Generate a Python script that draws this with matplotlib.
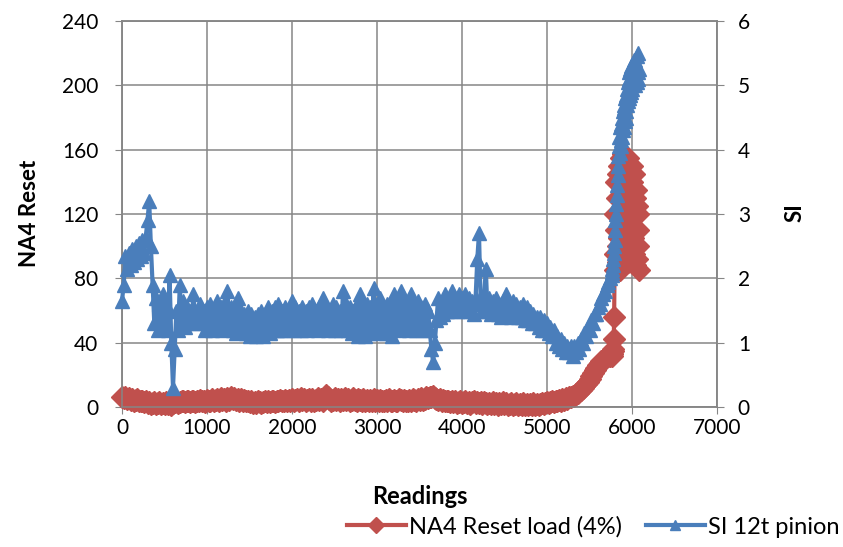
import numpy as np
import matplotlib
matplotlib.use("Agg")
import matplotlib.pyplot as plt

plt.rcParams['font.family'] = ['Lato', 'DejaVu Sans']

# reading index (subsampled: every 20 readings, then every 5 near the end)
readings = np.concatenate([np.arange(0, 5760, 20), np.arange(5760, 6085, 5)])

# NA4 Reset load (4%) - left axis
na4_reset = [
    6.5, 5.5, 6, 5, 5.5, 4.5, 5, 4, 4.5, 5, 4, 3.5, 4, 3, 3.5, 2.5, 3, 2, 2.5, 3, 2, 2.5, 3, 2,
    2.5, 2, 3, 2, 2.5, 1.5, 2.5, 3, 3.5, 2.5, 3, 3.5, 4, 3, 3.5, 4, 3, 3.5, 4, 3, 4, 3.5, 4.5, 3.5,
    4, 3, 4.5, 3.5, 4, 5, 4, 4.5, 5, 4, 5.5, 4.5, 5, 4, 5.5, 4.5, 6, 5, 5.5, 4.5, 5, 4, 5, 4,
    4.5, 3.5, 4, 3, 3.5, 2.5, 3, 2.5, 3.5, 3, 2.5, 3, 3.5, 3, 4, 3, 3.5, 4, 3, 4, 3.5, 4.5, 3.5, 4,
    4.5, 3.5, 4.5, 4, 5, 4, 4.5, 5, 4, 5.5, 4.5, 5, 4, 4.5, 5, 4, 5, 4, 4.5, 5.5, 4.5, 5, 4, 5,
    7.5, 6, 5, 4, 4.5, 5.5, 4.5, 5, 4, 5, 4.5, 5.5, 4.5, 5, 4, 4.5, 5.5, 4.5, 4, 5, 4.5, 4, 5, 4,
    4.5, 3.5, 4.5, 4, 5, 4, 4.5, 3.5, 4.5, 4, 3.5, 4.5, 4, 5, 3.5, 4, 4.5, 3.5, 4, 5, 4.5, 4, 4.5, 3.5,
    4, 4.5, 4, 5, 4.5, 4, 5, 4.5, 5.5, 4.5, 5, 6, 5.5, 6.5, 6, 7, 5.5, 5, 4.5, 5, 4, 4.5, 3.5, 4,
    3.5, 3, 4, 3, 3.5, 2.5, 3, 3.5, 2.5, 3, 3.5, 2.5, 3, 2, 3, 3.5, 2.5, 3, 2.5, 3, 2, 3, 2.5, 2,
    2.5, 2, 3, 2, 2.5, 1.5, 2.5, 2, 3, 2, 2.5, 1.5, 2, 2.5, 1.5, 2, 2.5, 1.5, 2, 1.5, 2.5, 1.5, 2, 1.5,
    2, 1.5, 2.5, 1.5, 2, 1.5, 2, 2.5, 2, 2.5, 3, 2.5, 3, 3.5, 3, 4, 3.5, 4.5, 4, 5, 4.5, 5.5, 5, 6,
    6, 7, 7, 8, 8.5, 10, 10.5, 12, 13, 14.5, 15.5, 17.5, 19, 21, 23, 24.5, 26, 27.5, 28.5, 29.5, 30.5, 31, 31.5, 32,
    # tail, every 5 readings
    32, 33, 34, 35, 36, 42, 56, 85, 120, 95, 140, 110,
    110, 130, 100, 145, 90, 150, 105, 140, 85, 150, 100, 155,
    95, 140, 110, 157, 100, 150, 90, 145, 120, 155, 95, 150,
    105, 140, 90, 155, 115, 145, 100, 150, 95, 135, 110, 150,
    90, 140, 105, 135, 95, 145, 110, 130, 88, 135, 100, 125,
    92, 120, 100, 110, 85,
]

# SI 12t pinion - right axis
si_pinion = [
    1.65, 1.9, 2.35, 2.15, 2.4, 2.2, 2.45, 2.25, 2.5, 2.3, 2.55, 2.35, 2.6, 2.4, 2.65, 2.9, 3.2, 2.5, 1.9, 1.3, 1.7, 1.2, 1.6, 1.3,
    1.75, 1.25, 1.6, 1.2, 2.05, 1.0, 0.3, 0.9, 1.5, 1.2, 1.9, 1.3, 1.65, 1.25, 1.55, 1.3, 1.5, 1.35, 1.75, 1.3, 1.5, 1.35, 1.6, 1.3,
    1.5, 1.2, 1.55, 1.25, 1.6, 1.2, 1.5, 1.25, 1.65, 1.3, 1.55, 1.2, 1.6, 1.25, 1.8, 1.3, 1.55, 1.2, 1.5, 1.15, 1.7, 1.25, 1.5, 1.2,
    1.45, 1.15, 1.5, 1.1, 1.45, 1.15, 1.4, 1.1, 1.45, 1.15, 1.5, 1.1, 1.45, 1.2, 1.55, 1.15, 1.5, 1.2, 1.55, 1.2, 1.6, 1.2, 1.5, 1.25,
    1.55, 1.2, 1.5, 1.25, 1.65, 1.2, 1.55, 1.25, 1.5, 1.2, 1.55, 1.25, 1.5, 1.2, 1.55, 1.25, 1.6, 1.25, 1.5, 1.2, 1.55, 1.3, 1.7, 1.25,
    1.55, 1.2, 1.5, 1.25, 1.6, 1.2, 1.55, 1.25, 1.5, 1.2, 1.8, 1.25, 1.6, 1.2, 1.55, 1.15, 1.5, 1.2, 1.6, 1.1, 1.75, 1.2, 1.55, 1.1,
    1.6, 1.15, 1.55, 1.25, 1.85, 1.2, 1.6, 1.15, 1.7, 1.25, 1.55, 1.15, 1.6, 1.2, 1.55, 1.1, 1.75, 1.25, 1.6, 1.2, 1.8, 1.3, 1.6, 1.25,
    1.6, 1.2, 1.75, 1.25, 1.6, 1.2, 1.65, 1.25, 1.55, 1.2, 1.6, 1.25, 1.5, 1.2, 0.9, 0.7, 1.0, 1.35, 1.7, 1.4, 1.55, 1.45, 1.75, 1.5,
    1.65, 1.5, 1.8, 1.55, 1.7, 1.5, 1.75, 1.6, 1.7, 1.5, 1.75, 1.55, 1.7, 1.5, 1.65, 1.45, 1.7, 2.3, 2.7, 1.6, 1.5, 1.7, 2.15, 1.5,
    1.7, 1.45, 1.65, 1.5, 1.7, 1.45, 1.6, 1.4, 1.65, 1.5, 1.75, 1.45, 1.6, 1.4, 1.65, 1.45, 1.6, 1.4, 1.55, 1.4, 1.6, 1.35, 1.55, 1.35,
    1.5, 1.3, 1.45, 1.3, 1.4, 1.25, 1.4, 1.2, 1.35, 1.2, 1.3, 1.15, 1.25, 1.1, 1.2, 1.0, 1.1, 0.95, 1.05, 0.9, 1.0, 0.85, 0.95, 0.85,
    0.95, 0.8, 0.95, 0.85, 1.0, 0.9, 1.05, 1.0, 1.15, 1.1, 1.25, 1.2, 1.35, 1.3, 1.45, 1.45, 1.55, 1.6, 1.7, 1.75, 1.8, 1.9, 1.95, 2.0,
    # tail, every 5 readings
    2.05, 2.1, 2.15, 2.2, 2.3, 2.4, 2.5, 2.6, 2.75, 2.9, 3.0, 3.15,
    3.3, 3.45, 3.6, 3.75, 3.9, 4.05, 4.2, 3.95, 4.35, 4.05, 4.4, 4.15,
    4.5, 4.2, 4.6, 4.3, 4.7, 4.35, 4.65, 4.45, 4.8, 4.5, 4.85, 4.6,
    4.95, 4.7, 5.05, 4.75, 5.1, 4.8, 5.2, 4.85, 5.25, 4.9, 5.3, 4.95,
    5.3, 5.0, 5.35, 5.05, 5.4, 5.1, 5.35, 5.0, 5.4, 5.1, 5.3, 5.05,
    5.45, 5.2, 5.5, 5.1, 5.25,
]

RED = '#C0504D'
BLUE = '#4A7EBB'
GREY = '#868686'
W, H = 843, 547

fig = plt.figure(figsize=(W / 100, H / 100), dpi=100)
ax = fig.add_axes([122 / W, (H - 407) / H, (717 - 122) / W, (407 - 21) / H])
ax2 = ax.twinx()

l1, = ax.plot(readings, na4_reset, color=RED, lw=3, marker='D', ms=11,
              label='NA4 Reset load (4%)', clip_on=False, zorder=3)
l2, = ax2.plot(readings, si_pinion, color=BLUE, lw=3, marker='^', ms=10,
               label='SI 12t pinion', clip_on=False, zorder=3)

ax.set_xlim(0, 7000)
ax.set_ylim(0, 240)
ax2.set_ylim(0, 6)
ax.set_xticks(range(0, 7001, 1000))
ax.set_yticks(range(0, 241, 40))
ax2.set_yticks(range(0, 7))

ax.grid(True, color=GREY, lw=1.1)
ax.set_axisbelow(True)
for a in (ax, ax2):
    for s in a.spines.values():
        s.set_color(GREY)
        s.set_linewidth(1.1)
ax.tick_params(axis='y', colors=GREY, labelcolor='black', labelsize=15, length=5, pad=12)
ax.tick_params(axis='x', colors=GREY, labelcolor='black', labelsize=15, length=5, pad=3)
ax2.tick_params(axis='y', colors=GREY, labelcolor='black', labelsize=15, length=5, pad=10)

fig.text(30 / W, 1 - 213 / H, 'NA4 Reset', rotation=90, ha='center', va='center',
         fontsize=16, fontweight='bold')
fig.text(795 / W, 1 - 213 / H, 'SI', rotation=90, ha='center', va='center',
         fontsize=16, fontweight='bold')
fig.text(420 / W, 1 - 497 / H, 'Readings', ha='center', va='center',
         fontsize=17, fontweight='bold')

fig.legend([l1, l2], [l1.get_label(), l2.get_label()], loc='center right',
           bbox_to_anchor=(840 / W, 1 - 527 / H), ncol=2, frameon=False,
           fontsize=17, handlelength=2.5, handletextpad=0.15, columnspacing=1.0,
           markerscale=0.7, borderpad=0, borderaxespad=0)

fig.savefig('out.png', dpi=100)
